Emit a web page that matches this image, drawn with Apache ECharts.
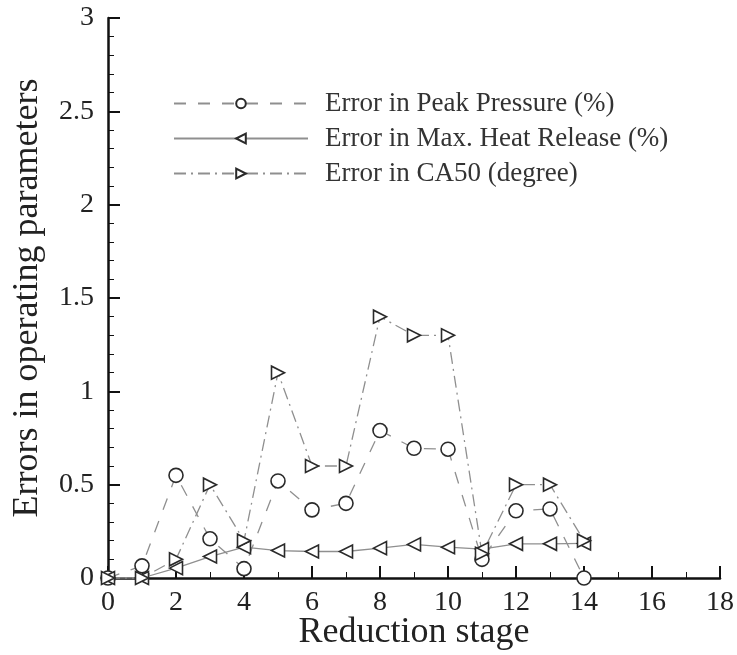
<!DOCTYPE html>
<html><head><meta charset="utf-8">
<script src="https://cdn.jsdelivr.net/npm/echarts@6/dist/echarts.min.js"></script>
<style>html,body{margin:0;padding:0;background:#fff}#c{width:737px;height:655px}</style>
</head><body><div id="c"></div>
<script>
const stages = [0,1,2,3,4,5,6,7,8,9,10,11,12,13,14];
const peakPressure = [0,0.065,0.55,0.21,0.05,0.52,0.365,0.40,0.79,0.695,0.69,0.10,0.36,0.37,0];
const maxHeatRelease = [0,0,0.053,0.115,0.165,0.147,0.142,0.142,0.16,0.18,0.165,0.155,0.183,0.183,0.185];
const ca50 = [0,0,0.10,0.50,0.20,1.10,0.60,0.60,1.40,1.30,1.30,0.13,0.50,0.50,0.20];
const seriesNames = ['Error in Peak Pressure (%)','Error in Max. Heat Release (%)','Error in CA50 (degree)'];
const xTicks = {min:0,max:18,interval:2};
const yTicks = {min:0,max:3,interval:0.5};

const pair = arr => stages.map((s,i)=>[s,arr[i]]);
const font = 'Liberation Serif';
const lineColor = '#8f8f8f';
const markColor = '#2a2a2a';
const chart = echarts.init(document.getElementById('c'));
chart.setOption({
  animation:false,
  backgroundColor:'#fff',
  grid:{left:108,right:17,top:18,bottom:77,containLabel:false,outerBoundsMode:'none'},
  legend:{
    top:85,left:168,orient:'vertical',itemGap:8,itemWidth:134,itemHeight:12,
    textStyle:{fontFamily:font,fontSize:27,color:'#333',padding:[0,0,0,12]},
    data:seriesNames
  },
  xAxis:{type:'value',min:xTicks.min,max:xTicks.max,interval:xTicks.interval,
    name:'Reduction stage',nameLocation:'middle',nameGap:37,nameMoveOverlap:false,
    nameTextStyle:{fontFamily:font,fontSize:36,color:'#222'},
    axisLine:{lineStyle:{color:'#111',width:2.5}},
    axisTick:{inside:true,length:12,lineStyle:{color:'#111',width:2}},
    minorTick:{show:true,splitNumber:2,length:6,lineStyle:{color:'#111',width:1}},
    axisLabel:{fontFamily:font,fontSize:28,color:'#222',margin:11},
    splitLine:{show:false}},
  yAxis:{type:'value',min:yTicks.min,max:yTicks.max,interval:yTicks.interval,
    name:'Errors in operating parameters',nameLocation:'middle',nameGap:62,
    nameTextStyle:{fontFamily:font,fontSize:36,color:'#222'},
    axisLine:{show:true,lineStyle:{color:'#111',width:2.5}},
    axisTick:{show:true,inside:true,length:12,lineStyle:{color:'#111',width:2}},
    minorTick:{show:true,splitNumber:5,length:6,lineStyle:{color:'#111',width:1}},
    axisLabel:{fontFamily:font,fontSize:28,color:'#222',margin:14},
    splitLine:{show:false}},
  series:[
    {name:seriesNames[0],type:'line',data:pair(peakPressure),symbol:'circle',symbolSize:14,
     lineStyle:{color:lineColor,width:1.3,type:[12,12]},
     itemStyle:{color:'#fff',borderColor:markColor,borderWidth:1.6}},
    {name:seriesNames[1],type:'line',data:pair(maxHeatRelease),symbol:'triangle',symbolRotate:90,symbolSize:13,
     lineStyle:{color:lineColor,width:1.3,type:'solid'},
     itemStyle:{color:'#fff',borderColor:markColor,borderWidth:1.6}},
    {name:seriesNames[2],type:'line',data:pair(ca50),symbol:'triangle',symbolRotate:-90,symbolSize:13,
     lineStyle:{color:lineColor,width:1.3,type:[12,5,2,5]},
     itemStyle:{color:'#fff',borderColor:markColor,borderWidth:1.6}}
  ]
});
</script></body></html>
